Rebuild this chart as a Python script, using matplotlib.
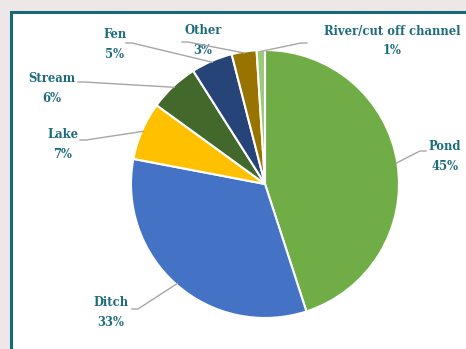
import numpy as np
import matplotlib
matplotlib.use("Agg")
import matplotlib.pyplot as plt
from matplotlib.patches import Rectangle

# data
habitats = ['Pond', 'Ditch', 'Lake', 'Stream', 'Fen', 'Other', 'River/cut off channel']
shares = [45, 33, 7, 6, 5, 3, 1]
colors = ['#70AD47', '#4472C4', '#FFC000', '#43682B', '#264478', '#997300', '#9BCB78']

# label layout in pixels (text block centre, start of leader line)
label_pos = {
    'Pond': (445, 156, 426, 151),
    'Ditch': (111, 312, 132, 309),
    'Lake': (63, 144, 80, 140),
    'Stream': (52, 88, 78, 82),
    'Fen': (115, 44, 126, 43),
    'Other': (203, 41, 182, 42),
    'River/cut off channel': (392, 41, 307, 43),
}

W, H = 466, 349
cx, cy, R = 265, 184, 134
text_col = '#1D6C7D'

fig = plt.figure(figsize=(W / 100, H / 100), dpi=100)
fig.patch.set_facecolor('#EDE7E7')

# white panel with teal border (runs off right / bottom)
panel = Rectangle((11 / W, -0.05), 1.0, (H - 12) / H + 0.05, transform=fig.transFigure,
                  facecolor='white', edgecolor='#16697A', linewidth=2.2, zorder=-1)
fig.patches.append(panel)

ax = fig.add_axes([(cx - R) / W, (H - cy - R) / H, 2 * R / W, 2 * R / H])
ax.pie(shares, colors=colors, startangle=90, counterclock=False, radius=1,
       wedgeprops=dict(edgecolor='white', linewidth=1.5))
ax.set_xlim(-1, 1)
ax.set_ylim(-1, 1)
ax.set_aspect('auto')
ax.axis('off')


def to_data(px, py):
    return (px - cx) / R, (cy - py) / R


total = sum(shares)
cum = 0
for name, val in zip(habitats, shares):
    mid = 90 - (cum + val / 2) / total * 360
    cum += val
    ang = np.deg2rad(mid)
    wx, wy = np.cos(ang) * 0.99, np.sin(ang) * 0.99
    tx, ty, lx, ly = label_pos[name]
    lx, ly = to_data(lx, ly)
    stub = 6 / R * (1 if wx > lx else -1)
    ax.plot([lx, lx + stub, wx], [ly, ly, wy], color='#A6A6A6', lw=1.0,
            clip_on=False, zorder=5)
    tx, ty = to_data(tx, ty)
    ax.text(tx, ty, f"{name}\n{val}%", ha='center', va='center', color=text_col,
            fontsize=9.3, family='DejaVu Serif', fontweight='bold',
            fontstretch='condensed', linespacing=1.7, clip_on=False)

fig.savefig('out.png', dpi=100, facecolor=fig.get_facecolor())
